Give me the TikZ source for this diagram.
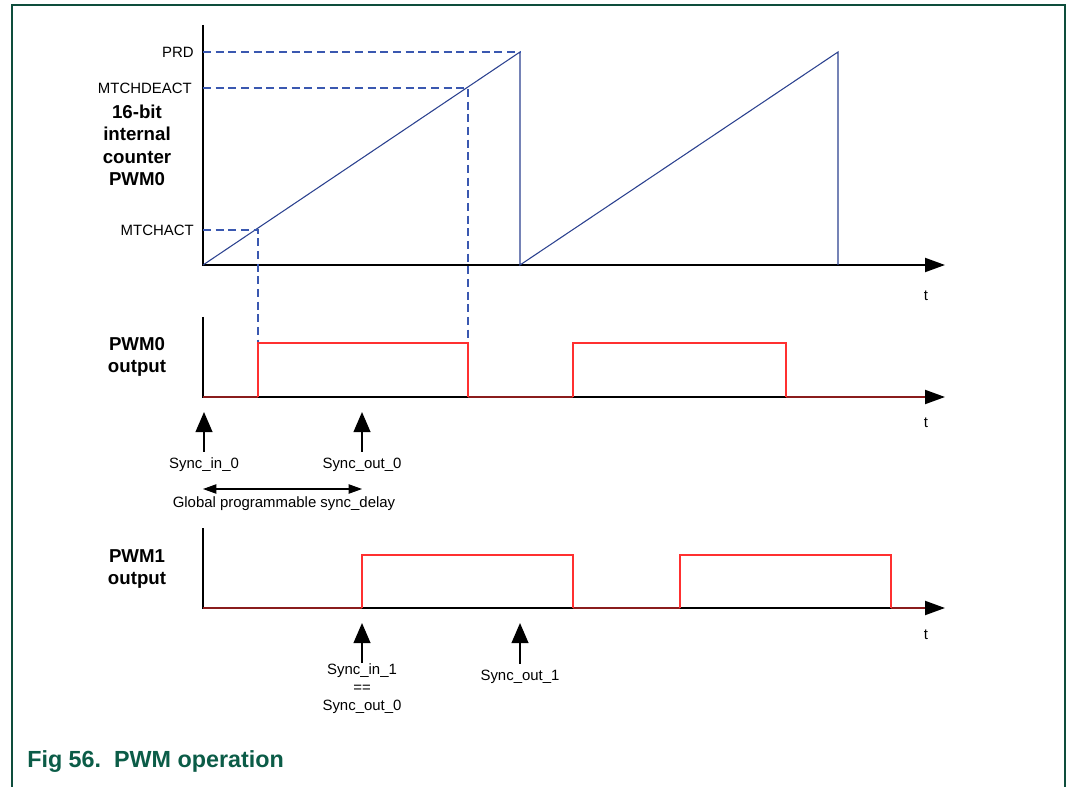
\documentclass[tikz,border=0pt]{standalone}
\usepackage{fontspec}
\setmainfont{Liberation Sans}
\usetikzlibrary{arrows.meta}
\definecolor{framegreen}{HTML}{0E4D3C}
\definecolor{capgreen}{HTML}{0B5C47}
\definecolor{rampblue}{HTML}{2B418F}
\definecolor{levelblue}{HTML}{3A58B0}
\definecolor{pwmred}{HTML}{FF3030}
\definecolor{lowred}{HTML}{8A1C1C}

\tikzset{
  axis/.style={line width=1.5pt, -{Triangle[length=15pt, width=10.5pt]}},
  ramp/.style={rampblue, line width=0.8pt},
  level/.style={levelblue, line width=0.9pt, dash pattern=on 6pt off 3.5pt},
  pwm/.style={pwmred, line width=0.9pt},
  pwmlow/.style={lowred, line width=1.2pt},
  syncarrow/.style={line width=1.5pt, -{Triangle[length=15pt, width=12.5pt]}},
  lbl/.style={font=\fontsize{11.2}{13}\selectfont, inner sep=0pt},
  sig/.style={font=\fontsize{14}{16.8}\selectfont\bfseries, align=center, inner sep=0pt},
}

\begin{document}
\begin{tikzpicture}[x=0.75pt, y=-0.75pt]
\useasboundingbox (0,0) rectangle (1066,787);
\draw[framegreen, line width=1.5pt] (11.5,800) -- (11.5,5.5) -- (1065,5.5) -- (1065,800);

% counter
\coordinate (c0) at (203,265);
\coordinate (cy) at (203,25);
\coordinate (ct) at (945,265);
\coordinate (pk1) at (520,52);
\coordinate (pk2) at (838,52);
\coordinate (mA) at (258,230);
\coordinate (mD) at (468,88);
\draw[axis] (cy) -- (c0) -- (ct);
\draw[ramp] (c0) -- (pk1) -- (pk1 |- c0) -- (pk2) -- (pk2 |- c0);
\node[lbl, anchor=east] (prd) at (194,52) {PRD};
\node[lbl, anchor=east] (deact) at (192,88) {MTCHDEACT};
\node[lbl, anchor=east] (act) at (194,230) {MTCHACT};
\node[sig] (cnt) at (137,145.5) {16-bit\\internal\\counter\\PWM0};
\node[lbl] (t0) at (926,296) {t};

% PWM0
\coordinate (p0) at (203,397);
\coordinate (p0y) at (203,317);
\coordinate (p0t) at (945,397);
\coordinate (h0) at (203,343);
\draw[level] (c0 |- pk1) -- (pk1);
\draw[level] (c0 |- mD) -- (mD) -- (mD |- h0);
\draw[level] (c0 |- mA) -- (mA) -- (mA |- h0);
\draw[axis] (p0y) -- (p0) -- (p0t);
\draw[pwmlow] (p0) -- (258,397) (468,397) -- (573,397) (786,397) -- (925,397);
\draw[pwm] (258,397) -- (258,343) -- (468,343) -- (468,397)
  (573,397) -- (573,343) -- (786,343) -- (786,397);
\node[sig] (pwm0) at (137,357) {PWM0\\output};
\node[lbl] (t1) at (926,423) {t};

% sync of PWM0
\node[lbl] (sin0) at (204,465) {Sync\_in\_0};
\node[lbl] (sout0) at (362,465) {Sync\_out\_0};
\draw[syncarrow] (sin0.north) ++(0,-6) coordinate (a0) -- (a0 |- 0,412);
\draw[syncarrow] (sout0.north) ++(0,-6) coordinate (a1) -- (a1 |- 0,412);
\draw[line width=0.8pt, {Triangle[length=10pt, width=7pt]}-{Triangle[length=10pt, width=7pt]}]
  (203,489) coordinate (d0) -- (d0 -| sout0);
\node[lbl] (delay) at (284,504) {Global programmable sync\_delay};

% PWM1
\coordinate (q0) at (203,608);
\coordinate (q0y) at (203,528);
\coordinate (q0t) at (945,608);
\draw[axis] (q0y) -- (q0) -- (q0t);
\draw[pwmlow] (q0) -- (362,608) (573,608) -- (680,608) (891,608) -- (925,608);
\draw[pwm] (362,608) -- (362,555) -- (573,555) -- (573,608)
  (680,608) -- (680,555) -- (891,555) -- (891,608);
\node[sig] (pwm1) at (137,569) {PWM1\\output};
\node[lbl] (t2) at (926,635) {t};

% sync of PWM1
\node[lbl, align=center, font=\fontsize{11.2}{13.5}\selectfont] (sin1) at (362,689)
  {Sync\_in\_1\\==\\Sync\_out\_0};
\node[lbl] (sout1) at (520,677) {Sync\_out\_1};
\coordinate (b0) at (362,663);
\draw[syncarrow] (b0) -- (b0 |- 0,623);
\draw[syncarrow] (sout1.north) ++(0,-6) coordinate (b1) -- (b1 |- 0,623);

\node[anchor=base west, inner sep=0pt, text=capgreen,
  font=\fontsize{17.5}{21}\selectfont\bfseries] (cap) at (27,767) {Fig 56.\ \ PWM operation};
\end{tikzpicture}
\end{document}
